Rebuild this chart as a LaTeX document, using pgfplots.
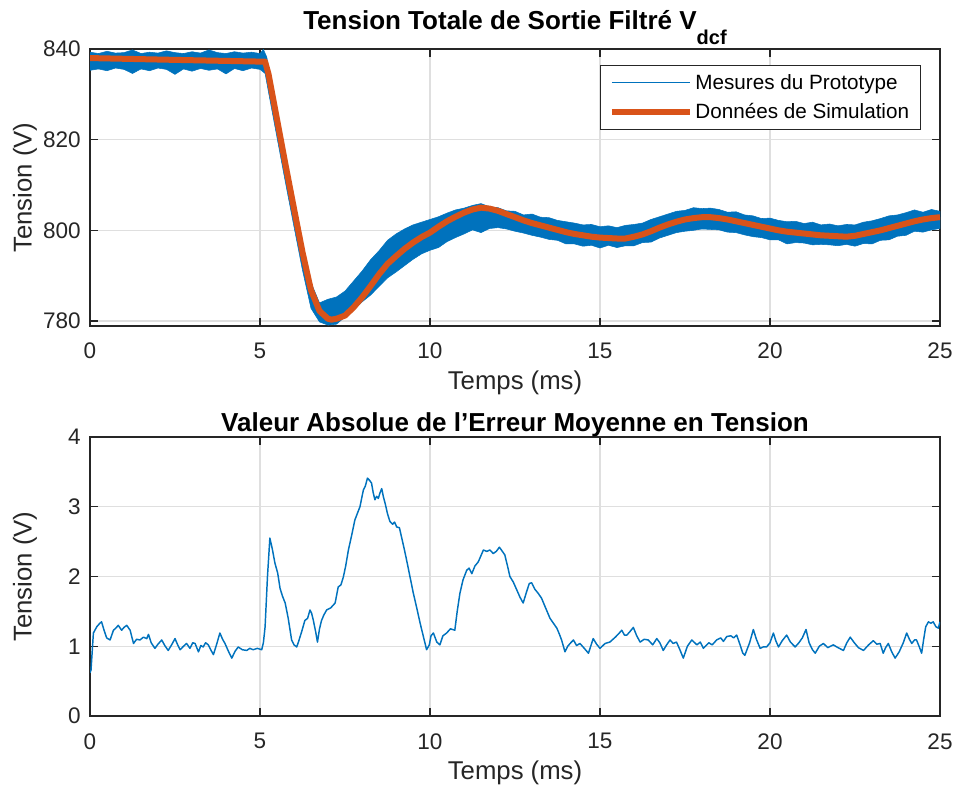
\documentclass[border=0pt]{standalone}
\usepackage{fontspec}
\setmainfont{Liberation Sans}
\usepackage{pgfplots}
\pgfplotsset{compat=1.18}
\usepackage{pgfplotstable}
\definecolor{mblue}{rgb}{0,0.447,0.741}
\definecolor{morange}{rgb}{0.851,0.325,0.098}
\definecolor{gridc}{RGB}{223,223,223}
\definecolor{axc}{RGB}{38,38,38}

\pgfplotstableread{
t v
0 838.0
2.5 837.6
5.15 837.2
5.25 834.5
5.5 824.5
5.75 814.5
6.0 804.8
6.25 795.2
6.5 786.8
6.75 782.2
7.0 780.5
7.1 780.3
7.25 780.5
7.5 781.2
7.75 783.0
8.0 785.2
8.25 787.7
8.5 790.3
8.75 792.6
9.0 794.3
9.25 795.9
9.5 797.3
9.75 798.5
10.0 799.5
10.25 800.8
10.5 802.0
10.75 803.0
11.0 803.9
11.25 804.6
11.5 805.0
11.75 804.8
12.0 804.3
12.25 803.6
12.5 802.9
12.75 802.2
13.0 801.6
13.25 801.1
13.5 800.6
13.75 800.1
14.0 799.6
14.25 799.2
14.5 798.9
14.75 798.6
15.0 798.4
15.25 798.3
15.5 798.2
15.75 798.2
16.0 798.6
16.25 799.1
16.5 799.8
16.75 800.6
17.0 801.3
17.25 801.9
17.5 802.4
17.75 802.7
18.0 802.9
18.25 802.9
18.5 802.7
18.75 802.4
19.0 802.0
19.25 801.6
19.5 801.2
19.75 800.8
20.0 800.4
20.25 800.0
20.5 799.7
20.75 799.5
21.0 799.3
21.25 799.1
21.5 798.9
21.75 798.8
22.0 798.7
22.25 798.6
22.5 798.8
22.75 799.2
23.0 799.6
23.25 800.0
23.5 800.5
23.75 801.0
24.0 801.5
24.25 802.0
24.5 802.4
24.75 802.7
25.0 802.9
}\simdata

\pgfplotstableread{
t v
0.00 0.62
0.03 0.66
0.10 1.19
0.20 1.28
0.29 1.33
0.34 1.35
0.42 1.22
0.49 1.12
0.59 1.09
0.69 1.23
0.76 1.26
0.83 1.30
0.93 1.23
1.00 1.27
1.08 1.30
1.18 1.23
1.28 1.04
1.37 1.10
1.47 1.09
1.57 1.13
1.67 1.11
1.72 1.17
1.80 1.05
1.91 0.97
2.00 1.03
2.11 1.09
2.20 1.01
2.30 0.94
2.40 1.02
2.50 1.11
2.57 1.03
2.65 0.95
2.75 1.00
2.84 1.04
2.94 0.97
3.02 1.05
3.09 1.04
3.19 0.92
3.26 1.01
3.33 0.99
3.40 1.05
3.48 1.02
3.55 0.95
3.63 0.88
3.72 1.02
3.82 1.19
3.90 1.10
3.97 1.04
4.07 0.93
4.17 0.83
4.27 0.93
4.36 0.99
4.48 0.95
4.61 0.94
4.70 0.97
4.80 0.95
4.92 0.97
5.05 0.95
5.10 1.05
5.15 1.28
5.22 2.00
5.29 2.55
5.36 2.40
5.44 2.19
5.52 2.05
5.59 1.83
5.66 1.72
5.74 1.62
5.83 1.40
5.93 1.09
6.00 1.02
6.08 0.99
6.13 1.06
6.22 1.20
6.32 1.37
6.40 1.40
6.47 1.52
6.52 1.47
6.57 1.37
6.64 1.20
6.69 1.06
6.75 1.25
6.81 1.37
6.88 1.45
6.96 1.52
7.08 1.55
7.21 1.62
7.30 1.85
7.38 1.88
7.45 1.99
7.52 2.15
7.60 2.38
7.70 2.60
7.79 2.81
7.86 2.90
7.94 3.00
8.04 3.24
8.10 3.30
8.16 3.41
8.22 3.38
8.28 3.34
8.33 3.20
8.38 3.10
8.43 3.15
8.48 3.12
8.53 3.20
8.58 3.26
8.63 3.14
8.68 3.05
8.75 2.90
8.82 2.79
8.90 2.75
8.96 2.78
9.02 2.71
9.10 2.70
9.17 2.55
9.24 2.40
9.31 2.24
9.41 2.00
9.51 1.76
9.61 1.55
9.71 1.33
9.80 1.15
9.90 0.95
9.98 1.02
10.03 1.15
10.10 1.19
10.20 1.06
10.29 1.02
10.38 1.15
10.49 1.19
10.60 1.25
10.73 1.23
10.80 1.50
10.88 1.76
10.97 1.95
11.08 2.09
11.15 2.12
11.23 2.04
11.32 2.15
11.42 2.21
11.50 2.30
11.57 2.38
11.67 2.36
11.76 2.38
11.86 2.33
11.95 2.36
12.04 2.42
12.10 2.38
12.20 2.31
12.28 2.15
12.35 2.00
12.45 1.92
12.55 1.81
12.65 1.70
12.74 1.62
12.84 1.78
12.92 1.90
12.99 1.91
13.08 1.82
13.18 1.76
13.28 1.69
13.40 1.55
13.53 1.40
13.63 1.33
13.73 1.26
13.80 1.18
13.87 1.09
13.97 0.92
14.05 1.00
14.14 1.05
14.22 1.09
14.31 1.01
14.41 1.04
14.52 0.98
14.66 0.90
14.74 1.02
14.80 1.11
14.90 1.03
15.00 0.97
15.15 1.04
15.29 1.06
15.45 1.13
15.55 1.18
15.64 1.23
15.72 1.16
15.79 1.16
15.88 1.21
15.98 1.27
16.08 1.15
16.18 1.06
16.30 1.10
16.42 1.09
16.55 1.02
16.67 1.11
16.76 1.05
16.86 0.94
16.96 1.02
17.06 1.09
17.15 1.04
17.25 1.06
17.35 0.95
17.45 0.83
17.57 1.00
17.70 1.09
17.85 1.02
17.95 1.06
18.04 0.97
18.20 1.05
18.30 1.02
18.43 1.09
18.55 1.12
18.63 1.07
18.73 1.14
18.85 1.15
18.93 1.12
19.02 1.16
19.12 1.02
19.20 0.90
19.26 0.87
19.40 1.05
19.51 1.24
19.60 1.10
19.71 0.97
19.80 0.99
19.90 0.99
20.00 1.05
20.10 1.19
20.17 1.08
20.25 0.99
20.36 1.08
20.49 1.16
20.60 1.06
20.74 0.99
20.85 1.05
20.95 1.12
21.06 1.24
21.15 1.05
21.25 0.95
21.33 0.90
21.45 1.00
21.57 1.04
21.70 0.98
21.86 1.02
22.00 0.98
22.16 0.94
22.26 1.05
22.36 1.13
22.48 1.05
22.60 0.98
22.75 0.94
22.90 1.02
23.04 1.08
23.14 1.03
23.24 1.04
23.33 0.90
23.40 0.98
23.48 1.04
23.58 0.92
23.68 0.83
23.80 0.92
23.92 1.05
24.02 1.19
24.10 1.10
24.17 1.04
24.25 1.09
24.31 1.09
24.40 0.98
24.46 0.90
24.52 1.10
24.58 1.28
24.66 1.35
24.73 1.33
24.80 1.35
24.88 1.28
24.95 1.26
25.00 1.35
}\errdata

\pgfplotsset{
  mstyle/.style={
    scale only axis, width=637.5pt,
    xmin=0, xmax=25, xtick={0,5,10,15,20,25},
    grid=major,
    major grid style={line width=1pt, color=gridc},
    axis line style={line width=1pt, color=axc},
    every tick/.style={line width=1pt, color=axc},
    tick align=inside, major tick length=6pt,
    /pgf/number format/assume math mode=true,
    tick label style={font=\fontsize{16.9}{18}\selectfont, color=axc},
    label style={font=\fontsize{19.3}{20}\selectfont, color=axc},
    xlabel={Temps (ms)}, ylabel={Tension (V)},
    title style={font=\bfseries\fontsize{19.5}{21}\selectfont, color=black, inner sep=0pt, anchor=base, at={(axis description cs:0.5,1)}},
    xticklabel style={inner sep=0pt, anchor=north, yshift=-12.75pt},
    yticklabel style={inner sep=0pt, anchor=east, xshift=-6.75pt},
    xlabel style={at={(axis description cs:0.5,-0.162)}, anchor=north, inner sep=0pt},
    ylabel style={at={(axis description cs:-0.0765,0.5)}, anchor=center, inner sep=0pt},
  }
}

\begin{document}
\begin{tikzpicture}
\path[use as bounding box] (0,0) rectangle (717.75pt,592.5pt);

\begin{axis}[mstyle,
  at={(67.5pt,348pt)}, anchor=south west,
  height=207.75pt,
  ymin=778.9, ymax=840, ytick={780,800,820,840},
  title={Tension Totale de Sortie Filtré V\raisebox{-11pt}{\fontsize{15}{15}\selectfont dcf}},
  title style={yshift=8.25pt},
  legend style={at={(axis description cs:0.9776,0.942)}, anchor=north east,
    draw=axc, line width=0.75pt, fill=white,
    font=\fontsize{15.5}{17}\selectfont, inner xsep=6.5pt, inner ysep=4.6pt,
    row sep=5pt},
  legend cell align=left,
  legend image code/.code={\draw[#1, line cap=butt] (0pt,0pt) -- (58.5pt,0pt);},
]
\addplot[forget plot, fill=mblue, draw=mblue, line width=0.4pt] coordinates {
(0,839.3)(0.25,839.0)(0.5,839.5)(0.75,839.1)(1,839.2)(1.25,839.8)(1.5,839.0)(1.75,839.3)(2,839.1)(2.25,839.6)(2.5,839.2)(2.75,839.0)(3,839.4)(3.25,839.1)(3.5,839.8)(3.75,839.2)(4,839.0)(4.25,839.4)(4.5,839.1)(4.75,839.3)(5,839.0)(5.1,839.9)(5.2,838.2)(5.25,836.0)(5.5,826.0)(5.75,816.0)(6,806.3)(6.25,796.7)(6.5,788.5)(6.75,784.0)(7,784.8)(7.25,785.3)(7.5,786.6)(7.75,788.8)(8,791.0)(8.25,793.5)(8.5,795.5)(8.75,797.8)(9,799.2)(9.25,800.3)(9.5,801.2)(9.75,801.8)(10,802.4)(10.25,803.0)(10.5,803.8)(10.75,804.5)(11,804.9)(11.25,805.5)(11.5,805.9)(11.75,805.2)(12,805.0)(12.25,804.3)(12.5,804.2)(12.75,803.4)(13,803.6)(13.25,802.9)(13.5,802.8)(13.75,802.2)(14,801.9)(14.25,801.6)(14.5,801.2)(14.75,801.3)(15,800.8)(15.25,801.0)(15.5,800.6)(15.75,801.1)(16,801.3)(16.25,801.6)(16.5,802.4)(16.75,803.0)(17,803.6)(17.25,804.2)(17.5,804.4)(17.75,805.0)(18,804.8)(18.25,804.9)(18.5,804.6)(18.75,804.0)(19,804.1)(19.25,803.4)(19.5,803.2)(19.75,802.6)(20,802.7)(20.25,802.2)(20.5,801.9)(20.75,802.0)(21,801.5)(21.25,801.8)(21.5,801.2)(21.75,801.4)(22,801.0)(22.25,801.3)(22.5,801.2)(22.75,801.8)(23,802.1)(23.25,802.6)(23.5,803.2)(23.75,803.4)(24,803.9)(24.25,804.5)(24.5,804.0)(24.75,804.6)(25,804.2)
(25,800.4)(24.75,800.1)(24.5,799.6)(24.25,799.8)(24,798.9)(23.75,798.7)(23.5,797.9)(23.25,797.8)(23,797.0)(22.75,797.1)(22.5,796.5)(22.25,796.9)(22,796.6)(21.75,796.8)(21.5,796.9)(21.25,796.8)(21,797.2)(20.75,797.3)(20.5,797.0)(20.25,797.9)(20,797.9)(19.75,798.4)(19.5,798.6)(19.25,799.0)(19,799.5)(18.75,799.6)(18.5,800.1)(18.25,800.2)(18,800.3)(17.75,800.0)(17.5,799.8)(17.25,799.5)(17,798.9)(16.75,798.3)(16.5,797.4)(16.25,797.3)(16,796.6)(15.75,796.6)(15.5,796.2)(15.25,796.7)(15,796.1)(14.75,796.7)(14.5,796.5)(14.25,797.0)(14,797.0)(13.75,797.8)(13.5,798.0)(13.25,798.5)(13,798.9)(12.75,799.4)(12.5,799.8)(12.25,800.3)(12,800.6)(11.75,800.4)(11.5,799.5)(11.25,800.1)(11,799.2)(10.75,798.4)(10.5,797.5)(10.25,796.2)(10,795.6)(9.75,794.8)(9.5,793.6)(9.25,792.2)(9,790.8)(8.75,789.5)(8.5,787.6)(8.25,785.7)(8,784.2)(7.75,782.4)(7.5,780.9)(7.25,779.3)(7,779.1)(6.75,779.8)(6.5,782.8)(6.25,791.2)(6,800.8)(5.75,810.5)(5.5,820.5)(5.25,830.5)(5.15,834.6)(5,835.5)(4.75,835.8)(4.5,835.2)(4.25,835.7)(4,834.5)(3.75,835.6)(3.5,835.3)(3.25,835.7)(3,835.1)(2.75,835.6)(2.5,834.4)(2.25,835.5)(2,835.8)(1.75,835.2)(1.5,835.6)(1.25,834.6)(1,835.5)(0.75,835.8)(0.5,835.2)(0.25,835.6)(0,835.3)
};
\addlegendimage{draw=mblue, line width=0.75pt}
\addlegendentry{Mesures du Prototype}
\addplot[draw=morange, line width=4.5pt, line join=round] table[x=t, y=v] {\simdata};
\addlegendentry{Données de Simulation}
\end{axis}

\begin{axis}[mstyle,
  at={(67.5pt,55.5pt)}, anchor=south west,
  height=209.25pt,
  ymin=0, ymax=4, ytick={0,1,2,3,4},
  xlabel style={at={(axis description cs:0.5,-0.161)}},
  title={Valeur Absolue de l’Erreur Moyenne en Tension},
  title style={yshift=-1.85pt},
]
\addplot[draw=mblue, line width=1.1pt, line join=round] table[x=t, y=v] {\errdata};
\end{axis}
\end{tikzpicture}
\end{document}
